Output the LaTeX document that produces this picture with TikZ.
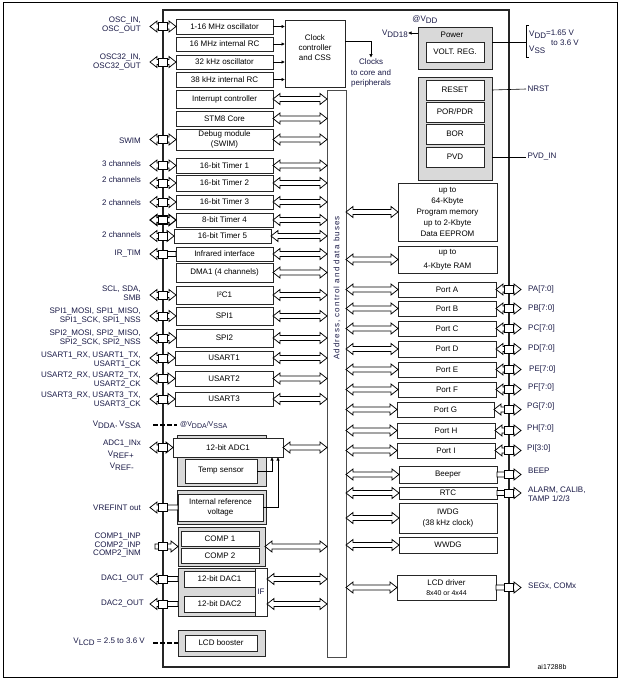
\documentclass[tikz,border=0pt]{standalone}
\usepackage{fontspec}
\setmainfont{Liberation Sans}
\usetikzlibrary{arrows.meta,calc}
\definecolor{gfill}{RGB}{217,217,217}
\definecolor{lbl}{RGB}{25,25,70}
\newcommand\sbs[1]{\raisebox{-2pt}{#1}}
\newcommand\bx[7][]{\node[blk,minimum width={(#5-#3)*1pt},minimum height={(#6-#4)*1pt},#1] (#2) at ({(#3+#5)/2},{(#4+#6)/2}) {#7};}
\def\arrh{7pt}
\def\arrw{5.5pt}
\def\arrs{2.4pt}
% hollow arrows, first point is the left one
\newcommand\barrow[3][]{\draw[hollow,#1] let \p1=(#2), \p2=(#3) in
 (\x1,\y1) -- ({\x1+\arrh},{\y1+\arrw}) -- ({\x1+\arrh},{\y1+\arrs}) -- ({\x2-\arrh},{\y1+\arrs}) -- ({\x2-\arrh},{\y1+\arrw}) -- (\x2,\y1) -- ({\x2-\arrh},{\y1-\arrw}) -- ({\x2-\arrh},{\y1-\arrs}) -- ({\x1+\arrh},{\y1-\arrs}) -- ({\x1+\arrh},{\y1-\arrw}) -- cycle;}
\newcommand\larrow[3][]{\draw[hollow,#1] let \p1=(#2), \p2=(#3) in
 (\x1,\y1) -- ({\x1+\arrh},{\y1+\arrw}) -- ({\x1+\arrh},{\y1+\arrs}) -- (\x2,{\y1+\arrs}) -- (\x2,{\y1-\arrs}) -- ({\x1+\arrh},{\y1-\arrs}) -- ({\x1+\arrh},{\y1-\arrw}) -- cycle;}
\newcommand\rarrow[3][]{\draw[hollow,#1] let \p1=(#2), \p2=(#3) in
 (\x1,{\y1+\arrs}) -- ({\x2-\arrh},{\y1+\arrs}) -- ({\x2-\arrh},{\y1+\arrw}) -- (\x2,\y1) -- ({\x2-\arrh},{\y1-\arrw}) -- ({\x2-\arrh},{\y1-\arrs}) -- (\x1,{\y1-\arrs}) -- cycle;}
\tikzset{
 blk/.style={draw=black!85, fill=white, line width=0.6pt, inner sep=0pt, outer sep=0pt, align=center, font=\fontsize{8}{9.5}\selectfont},
 gbox/.style={fill=gfill},
 lab/.style={font=\fontsize{8}{9.5}\selectfont, text=lbl, inner sep=0pt, align=right, anchor=east},
 rlab/.style={font=\fontsize{8}{9.5}\selectfont, text=lbl, inner sep=0pt, align=left, anchor=west},
 hollow/.style={draw=black, fill=white, line width=0.75pt, line join=miter},
 sq/.style={draw=black, fill=white, line width=0.75pt, minimum width=9pt, minimum height=8pt, inner sep=0pt},
 thinar/.style={draw, line width=0.6pt, -{Latex[length=3.5pt,width=3.5pt]}},
 vdash/.style={line width=1.6pt, dash pattern=on 5pt off 2pt},
}
\begin{document}
\begin{tikzpicture}[x=1pt,y=-1pt]
\useasboundingbox (0,0) rectangle (621,681);
\draw[line width=0.8pt] (3,2) rectangle (617,677);
% chip and bus
\bx[fill=none, line width=1.3pt]{chip}{163}{10}{509}{667}{}
\bx[draw=black!70]{bus}{327}{90}{346}{657}{}
\node[rotate=90, font=\fontsize{8}{9.5}\selectfont\addfontfeatures{LetterSpace=14}, text=lbl] (buslbl) at (337,288) {Address, control and data buses};
\coordinate (pinL) at (150,0);
\coordinate (pinL2) at (155,0);
\coordinate (pinR) at (521,0);
\coordinate (dashL) at (153,0);
% clock sources
\bx{osc1}{176}{19}{273}{34}{1-16 MHz oscillator}
\bx{rc16}{176}{37}{273}{51}{16 MHz internal RC}
\bx{osc32}{176}{55}{273}{69}{32 kHz oscillator}
\bx{rc38}{176}{72}{273}{87}{38 kHz internal RC}
\bx{clk}{285}{20}{345}{87}{}
\node[font=\fontsize{8}{10}\selectfont, align=center, inner sep=0pt] (clktxt) at (315,48) {Clock\\controller\\and CSS};
\node[font=\fontsize{8}{10.5}\selectfont, align=center, inner sep=1pt, text=lbl] (clkto) at (371,73) {Clocks\\to core and\\peripherals};
% left column
\bx{itc}{176}{90}{273}{108}{Interrupt controller}
\bx{core}{176}{111}{273}{126}{STM8 Core}
\bx{dbg}{176}{129}{273}{150}{Debug module\\(SWIM)}
\bx{tim1}{176}{158}{273}{173}{16-bit Timer 1}
\bx{tim2}{176}{175}{273}{191}{16-bit Timer 2}
\bx{tim3}{176}{195}{273}{209}{16-bit Timer 3}
\bx{tim4}{176}{213}{273}{227}{8-bit Timer 4}
\bx{tim5}{174}{229}{271}{243}{16-bit Timer 5}
\bx{ir}{176}{247}{273}{261}{Infrared interface}
\bx{dma}{176}{263}{273}{282}{DMA1 (4 channels)}
\bx{i2c}{176}{286}{273}{304}{I²C1}
\bx[line width=0.8pt]{spi1}{176}{307}{273}{325}{SPI1}
\bx[line width=0.8pt]{spi2}{176}{329}{273}{347}{SPI2}
\bx{us1}{175}{351}{273}{365}{USART1}
\bx{us2}{175}{371}{273}{386}{USART2}
\bx{us3}{175}{392}{273}{406}{USART3}
% analog
\bx[gbox]{adcg}{177}{435}{266}{486}{}
\bx{adc}{173}{438}{283}{457}{12-bit ADC1}
\bx{temp}{185}{459}{257}{483}{Temp sensor}
\bx[gbox]{vrefg}{177}{490}{266}{524}{}
\bx{vref}{178}{494}{263}{521}{Internal reference\\voltage}
\bx[gbox]{compg}{178}{527}{265}{566}{}
\bx{comp1}{181}{531}{259}{546}{COMP 1}
\bx{comp2}{181}{548}{259}{563}{COMP 2}
\bx[gbox]{dacg}{178}{568}{256}{616}{}
\bx[text=lbl]{ifbox}{255}{568}{267}{616}{IF}
\bx{dac1}{184}{571}{255}{587}{12-bit DAC1}
\bx{dac2}{184}{596}{255}{612}{12-bit DAC2}
\bx[gbox]{lcdbg}{178}{630}{265}{656}{}
\bx{lcdb}{185}{635}{257}{651}{LCD booster}
\coordinate (tx) at (272,0);
\coordinate (vx) at (278,0);
\draw[thinar] (temp.east) -| (tx |- adc.south);
\draw[thinar] (vref.east) -| (vx |- adc.south);
% power
\bx[gbox]{pwrg}{418}{27}{492}{69}{}
\node[font=\fontsize{8}{9.5}\selectfont, inner sep=0pt] (pwrtxt) at (452,35) {Power};
\bx{volt}{426}{42}{484}{62}{VOLT. REG.}
\node[font=\fontsize{8}{9.5}\selectfont, inner sep=0pt, text=lbl] (atvdd) at (425,20) {@V\sbs{DD}};
\node[rlab, anchor=east] (vdd18) at (408,34) {V\sbs{DD18}};
\draw[thinar] ([yshift=15pt]pwrg.west) -- (vdd18.east |- 0,33);
\coordinate (bt) at (526,25);
\coordinate (bb) at (526,57);
\draw[line width=0.6pt] ([xshift=3pt]bt) -- (bt) -- (bb) -- ([xshift=3pt]bb);
\draw[line width=0.6pt] ([yshift=6pt]pwrg.east) -- ([yshift=6pt]pwrg.east -| bt);
\node[rlab] (vddl) at (529,34) {V\sbs{DD}\raisebox{1pt}{=1.65 V}};
\node[rlab] (vddl2) at (551,43) {to 3.6 V};
\node[rlab] (vssl) at (529,50) {V\sbs{SS}};
% reset
\bx[gbox]{rstg}{418}{77}{492}{180}{}
\bx{reset}{426}{80}{484}{100}{RESET}
\bx{por}{426}{102}{484}{122}{POR/PDR}
\bx{bor}{426}{124}{484}{144}{BOR}
\bx{pvd}{426}{147}{484}{167}{PVD}
\node[rlab] (nrst) at (526,89) {\,NRST};
\node[rlab] (pvdin) at (526,157) {\,PVD\_IN};
\draw[line width=0.6pt] (reset.east -| rstg.east) -- (nrst.west);
\draw[line width=0.6pt] (pvd.east -| rstg.east) -- (pvdin.west);
% memory
\bx[font=\fontsize{8}{11}\selectfont]{mem}{398}{183}{497}{241}{up to\\64-Kbyte\\Program memory\\up to 2-Kbyte\\Data EEPROM}
\bx{ram}{398}{246}{497}{273}{up to\\[4pt]4-Kbyte RAM}
% ports
\bx{pa}{398}{282}{496}{297}{Port A}
\bx{pb}{398}{301}{496}{316}{Port B}
\bx{pc}{398}{321}{496}{336}{Port C}
\bx{pd}{398}{341}{496}{357}{Port D}
\bx{pe}{398}{362}{496}{377}{Port E}
\bx{pf}{398}{382}{496}{397}{Port F}
\bx{pg}{397}{402}{494}{417}{Port G}
\bx{ph}{397}{423}{495}{438}{Port H}
\bx{pi}{397}{443}{495}{458}{Port I}
\bx{beep}{399}{466}{497}{483}{Beeper}
\bx{rtc}{399}{487}{497}{499}{RTC}
\bx{iwdg}{399}{503}{497}{533}{IWDG\\[2pt](38 kHz clock)}
\bx{wwdg}{399}{537}{497}{553}{WWDG}
\bx{lcdd}{397}{575}{496}{600}{LCD driver\\[1pt]{\fontsize{7}{8}\selectfont 8x40 or 4x44}}
% clock arrows
\foreach \k in {osc1,rc16,osc32,rc38} \draw[thinar] (\k.east) -- (\k.east -| clk.west);
\draw[thinar] ([yshift=12pt]clk.east) -| (clkto.north);
% bus arrows
\foreach \k in {itc,core,dbg,tim1,tim2,tim3,tim4,tim5,ir,dma,i2c,spi1,spi2,us1,us2,us3,adc,compg}
  {\barrow{\k.east}{\k.east -| bus.west}}
\barrow{ifbox.east |- dac1.east}{dac1.east -| bus.west}
\barrow{ifbox.east |- dac2.east}{dac2.east -| bus.west}
\foreach \k in {mem,ram,pa,pb,pc,pd,pe,pf,pg,ph,pi,beep,rtc,iwdg,wwdg,lcdd}
  {\barrow{\k.west -| bus.east}{\k.west}}
% left pins
\foreach \k in {osc1,osc32,dbg,tim1,tim2,tim3,tim5,i2c,spi1,spi2,us1,us2,us3,adc}{
  \barrow{\k.west -| pinL}{\k.west}
  \node[sq] at (\k.west -| chip.west) {};}
\barrow[line width=1.1pt]{tim4.west -| pinL}{tim4.west}
\node[sq, line width=1.1pt] at (tim4.west -| chip.west) {};
\foreach \k in {ir,vref}{
  \larrow{\k.west -| pinL}{\k.west}
  \node[sq] at (\k.west -| chip.west) {};}
\foreach \k in {dac1,dac2}{
  \larrow{\k.west -| pinL}{\k.west -| dacg.west}
  \node[sq] at (\k.west -| chip.west) {};}
\rarrow{compg.west -| pinL2}{compg.west}
\node[sq] at (compg.west -| chip.west) {};
% right pins
\foreach \k in {pa,pb,pc,pd,pe,pf,pg,ph,pi}{
  \barrow{\k.east}{\k.east -| pinR}
  \node[sq] at (\k.east -| chip.east) {};}
\foreach \k in {beep,rtc,lcdd}{
  \rarrow{\k.east}{\k.east -| pinR}
  \node[sq] at (\k.east -| chip.east) {};}
% left labels
\node[lab] (l-osc) at (141,25) {OSC\_IN,\\OSC\_OUT};
\node[lab] (l-osc32) at (141,62) {OSC32\_IN,\\OSC32\_OUT};
\node[lab] (l-swim) at (141,141) {SWIM};
\node[lab] (l-t1) at (141,164) {3 channels};
\node[lab] (l-t2) at (141,180) {2 channels};
\node[lab] (l-t3) at (141,203) {2 channels};
\node[lab] (l-t5) at (141,235) {2 channels};
\node[lab] (l-ir) at (141,254) {IR\_TIM};
\node[lab] (l-i2c) at (141,293) {SCL, SDA,\\SMB};
\node[lab] (l-spi1) at (141,316) {SPI1\_MOSI, SPI1\_MISO,\\SPI1\_SCK, SPI1\_NSS};
\node[lab] (l-spi2) at (141,338) {SPI2\_MOSI, SPI2\_MISO,\\SPI2\_SCK, SPI2\_NSS};
\node[lab] (l-us1) at (141,360) {USART1\_RX, USART1\_TX,\\USART1\_CK};
\node[lab] (l-us2) at (141,380) {USART2\_RX, USART2\_TX,\\USART2\_CK};
\node[lab] (l-us3) at (141,400) {USART3\_RX, USART3\_TX,\\USART3\_CK};
\node[lab] (l-vdda) at (141,425) {V\sbs{DDA}, V\sbs{SSA}};
\node[lab] (l-adc) at (141,443) {ADC1\_INx};
\node[lab] (l-vrefp) at (134,455) {V\sbs{REF+}};
\node[lab] (l-vrefm) at (134,467) {V\sbs{REF-}};
\node[lab] (l-vrefint) at (141,508) {VREFINT out};
\node[lab, font=\fontsize{8}{8.5}\selectfont] (l-comp) at (141,545) {COMP1\_INP\\COMP2\_INP\\COMP2\_INM};
\node[lab] (l-dac1) at (144,578) {DAC1\_OUT};
\node[lab] (l-dac2) at (144,603) {DAC2\_OUT};
\node[lab] (l-vlcd) at (145,642) {V\sbs{LCD} = 2.5 to 3.6 V};
\node[rlab, font=\fontsize{7}{8}\selectfont] (vddat) at (180,425) {@V\sbs{DDA}/V\sbs{SSA}};
\draw[vdash] (dashL |- vddat.west) -- ([xshift=-3pt]vddat.west);
\draw[vdash] (dashL |- lcdbg.west) -- (lcdbg.west);
% right labels
\node[rlab] (l-pa) at (528,289) {PA[7:0]};
\node[rlab] (l-pb) at (528,308) {PB[7:0]};
\node[rlab] (l-pc) at (528,328) {PC[7:0]};
\node[rlab] (l-pd) at (528,348) {PD[7:0]};
\node[rlab] (l-pe) at (529,369) {PE[7:0]};
\node[rlab] (l-pf) at (528,387) {PF[7:0]};
\node[rlab] (l-pg) at (527,406) {PG[7:0]};
\node[rlab] (l-ph) at (527,428) {PH[7:0]};
\node[rlab] (l-pi) at (527,448) {PI[3:0]};
\node[rlab] (l-beep) at (528,471) {BEEP};
\node[rlab] (l-rtc) at (528,494) {ALARM, CALIB,\\TAMP 1/2/3};
\node[rlab] (l-seg) at (528,586) {SEGx, COMx};
\node[font=\fontsize{7}{8}\selectfont, inner sep=0pt] (ref) at (552,667) {ai17288b};
\end{tikzpicture}
\end{document}
